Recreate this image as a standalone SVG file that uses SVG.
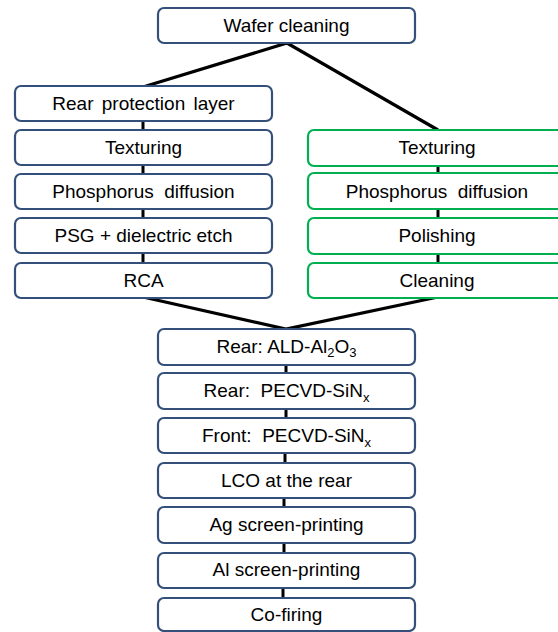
<svg xmlns="http://www.w3.org/2000/svg" width="558" height="632" viewBox="0 0 558 632">
<style>
.b{fill:#fff;stroke:#34507a;stroke-width:2.2}
.g{fill:#fff;stroke:#00b050;stroke-width:2.2}
text{font-family:"Liberation Sans",Arial,sans-serif;font-size:19px;fill:#000;text-anchor:middle;white-space:pre}
.sub{font-size:13px}
.c{stroke:#000;stroke-width:3.2;fill:none}
.v{stroke:#000;stroke-width:3;fill:none}
</style>
<rect width="558" height="632" fill="#fff"/>
<g id="connectors">
<path class="c" d="M143,87 L287,43 L438,130"/>
<path class="c" d="M143,297 L286,329 L438,297"/>
<path class="v" d="M143,121 V130 M143,165 V174 M143,209 V218 M143,253 V263"/>
<path class="v" d="M438,166 V173 M438,209 V218 M438,254 V263"/>
<path class="v" d="M286,365 V373 M286,409 V418 M285,453 V463 M284,498 V507 M284,543 V553 M283,588 V598"/>
</g>
<g id="n_wafer"><rect class="b" x="158" y="8" width="257" height="35" rx="6"/><text x="286.5" y="32">Wafer cleaning</text></g>
<g id="n_rear_prot"><rect class="b" x="15" y="86" width="257" height="35" rx="6"/><text x="143.5" y="110" word-spacing="3">Rear protection layer</text></g>
<g id="n_tex_l"><rect class="b" x="15" y="130" width="257" height="35" rx="6"/><text x="143.5" y="154">Texturing</text></g>
<g id="n_phos_l"><rect class="b" x="15" y="174" width="257" height="35" rx="6"/><text x="143.5" y="198" xml:space="preserve">Phosphorus  diffusion</text></g>
<g id="n_psg"><rect class="b" x="15" y="218" width="257" height="35" rx="6"/><text x="143.5" y="242">PSG + dielectric etch</text></g>
<g id="n_rca"><rect class="b" x="15" y="263" width="257" height="35" rx="6"/><text x="143.5" y="287">RCA</text></g>
<g id="n_tex_r"><rect class="g" x="308" y="130" width="258" height="36" rx="6"/><text x="437" y="154">Texturing</text></g>
<g id="n_phos_r"><rect class="g" x="308" y="173" width="258" height="36" rx="6"/><text x="437" y="198" xml:space="preserve">Phosphorus  diffusion</text></g>
<g id="n_pol"><rect class="g" x="308" y="218" width="258" height="36" rx="6"/><text x="437" y="242">Polishing</text></g>
<g id="n_clean"><rect class="g" x="308" y="263" width="258" height="35" rx="6"/><text x="437" y="287">Cleaning</text></g>
<g id="n_ald"><rect class="b" x="158" y="329" width="257" height="36" rx="6"/><text x="286.5" y="353">Rear: ALD-Al<tspan class="sub" dy="4">2</tspan><tspan dy="-4">O</tspan><tspan class="sub" dy="4">3</tspan></text></g>
<g id="n_rear_sin"><rect class="b" x="158" y="373" width="257" height="36" rx="6"/><text x="286.5" y="397" xml:space="preserve">Rear:  PECVD-SiN<tspan class="sub" dy="5">x</tspan></text></g>
<g id="n_front_sin"><rect class="b" x="158" y="418" width="257" height="35" rx="6"/><text x="286.5" y="442" xml:space="preserve">Front:  PECVD-SiN<tspan class="sub" dy="5">x</tspan></text></g>
<g id="n_lco"><rect class="b" x="158" y="463" width="257" height="35" rx="6"/><text x="286.5" y="487">LCO at the rear</text></g>
<g id="n_ag"><rect class="b" x="158" y="507" width="257" height="36" rx="6"/><text x="286.5" y="531">Ag screen-printing</text></g>
<g id="n_al"><rect class="b" x="158" y="553" width="257" height="35" rx="6"/><text x="286.5" y="576">Al screen-printing</text></g>
<g id="n_cofire"><rect class="b" x="158" y="598" width="257" height="33" rx="6"/><text x="286.5" y="621">Co-firing</text></g>
</svg>
